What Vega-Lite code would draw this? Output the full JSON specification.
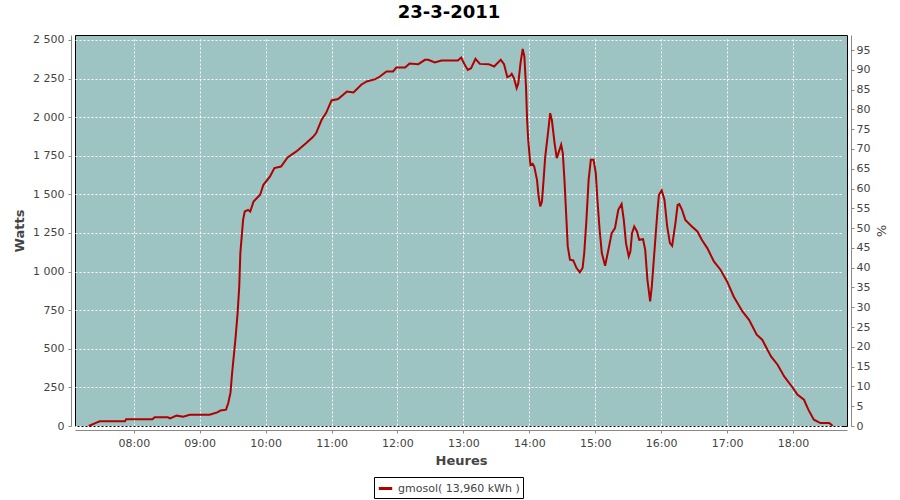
{
  "$schema": "https://vega.github.io/schema/vega-lite/v6.json",
  "width": 772,
  "height": 391,
  "autosize": {"type": "none"},
  "padding": {"left": 75, "top": 35, "right": 53, "bottom": 74},
  "background": "white",
  "title": {"text": "23-3-2011", "font": "DejaVu Sans", "fontSize": 18, "fontWeight": "bold", "color": "black", "anchor": "middle", "dx": -12, "offset": 12},
  "config": {
    "view": {"fill": "#9dc3c2", "stroke": "black", "strokeWidth": 1},
    "axis": {
      "labelFont": "DejaVu Sans", "labelFontSize": 11, "labelColor": "#444444",
      "titleFont": "DejaVu Sans", "titleFontSize": 13, "titleFontWeight": "bold", "titleColor": "#444444",
      "domainColor": "#888888", "tickColor": "#888888", "tickSize": 3, "offset": 4,
      "gridColor": "white", "gridDash": [2, 2], "gridWidth": 1, "gridOpacity": 1
    }
  },
  "layer": [
    {
      "data": {"values": [
        {"heure": "2011-03-23T07:19:00", "watts": 0, "serie": "gmosol( 13,960 kWh )"},
        {"heure": "2011-03-23T07:25:00", "watts": 19, "serie": "gmosol( 13,960 kWh )"},
        {"heure": "2011-03-23T07:29:00", "watts": 30, "serie": "gmosol( 13,960 kWh )"},
        {"heure": "2011-03-23T07:52:00", "watts": 30, "serie": "gmosol( 13,960 kWh )"},
        {"heure": "2011-03-23T07:53:00", "watts": 43, "serie": "gmosol( 13,960 kWh )"},
        {"heure": "2011-03-23T08:17:00", "watts": 43, "serie": "gmosol( 13,960 kWh )"},
        {"heure": "2011-03-23T08:19:00", "watts": 56, "serie": "gmosol( 13,960 kWh )"},
        {"heure": "2011-03-23T08:31:00", "watts": 56, "serie": "gmosol( 13,960 kWh )"},
        {"heure": "2011-03-23T08:33:00", "watts": 49, "serie": "gmosol( 13,960 kWh )"},
        {"heure": "2011-03-23T08:39:00", "watts": 67, "serie": "gmosol( 13,960 kWh )"},
        {"heure": "2011-03-23T08:45:00", "watts": 60, "serie": "gmosol( 13,960 kWh )"},
        {"heure": "2011-03-23T08:51:00", "watts": 73, "serie": "gmosol( 13,960 kWh )"},
        {"heure": "2011-03-23T09:09:00", "watts": 73, "serie": "gmosol( 13,960 kWh )"},
        {"heure": "2011-03-23T09:16:00", "watts": 88, "serie": "gmosol( 13,960 kWh )"},
        {"heure": "2011-03-23T09:19:00", "watts": 101, "serie": "gmosol( 13,960 kWh )"},
        {"heure": "2011-03-23T09:24:00", "watts": 106, "serie": "gmosol( 13,960 kWh )"},
        {"heure": "2011-03-23T09:26:00", "watts": 149, "serie": "gmosol( 13,960 kWh )"},
        {"heure": "2011-03-23T09:28:00", "watts": 214, "serie": "gmosol( 13,960 kWh )"},
        {"heure": "2011-03-23T09:29:30", "watts": 343, "serie": "gmosol( 13,960 kWh )"},
        {"heure": "2011-03-23T09:31:00", "watts": 451, "serie": "gmosol( 13,960 kWh )"},
        {"heure": "2011-03-23T09:32:30", "watts": 559, "serie": "gmosol( 13,960 kWh )"},
        {"heure": "2011-03-23T09:34:30", "watts": 731, "serie": "gmosol( 13,960 kWh )"},
        {"heure": "2011-03-23T09:36:00", "watts": 904, "serie": "gmosol( 13,960 kWh )"},
        {"heure": "2011-03-23T09:37:00", "watts": 1120, "serie": "gmosol( 13,960 kWh )"},
        {"heure": "2011-03-23T09:38:30", "watts": 1249, "serie": "gmosol( 13,960 kWh )"},
        {"heure": "2011-03-23T09:39:30", "watts": 1335, "serie": "gmosol( 13,960 kWh )"},
        {"heure": "2011-03-23T09:41:00", "watts": 1389, "serie": "gmosol( 13,960 kWh )"},
        {"heure": "2011-03-23T09:44:00", "watts": 1400, "serie": "gmosol( 13,960 kWh )"},
        {"heure": "2011-03-23T09:46:00", "watts": 1389, "serie": "gmosol( 13,960 kWh )"},
        {"heure": "2011-03-23T09:49:00", "watts": 1454, "serie": "gmosol( 13,960 kWh )"},
        {"heure": "2011-03-23T09:55:00", "watts": 1497, "serie": "gmosol( 13,960 kWh )"},
        {"heure": "2011-03-23T09:58:00", "watts": 1562, "serie": "gmosol( 13,960 kWh )"},
        {"heure": "2011-03-23T10:04:00", "watts": 1616, "serie": "gmosol( 13,960 kWh )"},
        {"heure": "2011-03-23T10:08:00", "watts": 1670, "serie": "gmosol( 13,960 kWh )"},
        {"heure": "2011-03-23T10:14:00", "watts": 1680, "serie": "gmosol( 13,960 kWh )"},
        {"heure": "2011-03-23T10:20:00", "watts": 1739, "serie": "gmosol( 13,960 kWh )"},
        {"heure": "2011-03-23T10:28:00", "watts": 1778, "serie": "gmosol( 13,960 kWh )"},
        {"heure": "2011-03-23T10:37:00", "watts": 1832, "serie": "gmosol( 13,960 kWh )"},
        {"heure": "2011-03-23T10:43:00", "watts": 1871, "serie": "gmosol( 13,960 kWh )"},
        {"heure": "2011-03-23T10:46:00", "watts": 1897, "serie": "gmosol( 13,960 kWh )"},
        {"heure": "2011-03-23T10:51:00", "watts": 1983, "serie": "gmosol( 13,960 kWh )"},
        {"heure": "2011-03-23T10:55:00", "watts": 2026, "serie": "gmosol( 13,960 kWh )"},
        {"heure": "2011-03-23T11:00:00", "watts": 2108, "serie": "gmosol( 13,960 kWh )"},
        {"heure": "2011-03-23T11:06:00", "watts": 2117, "serie": "gmosol( 13,960 kWh )"},
        {"heure": "2011-03-23T11:14:00", "watts": 2166, "serie": "gmosol( 13,960 kWh )"},
        {"heure": "2011-03-23T11:20:00", "watts": 2160, "serie": "gmosol( 13,960 kWh )"},
        {"heure": "2011-03-23T11:27:00", "watts": 2210, "serie": "gmosol( 13,960 kWh )"},
        {"heure": "2011-03-23T11:32:00", "watts": 2231, "serie": "gmosol( 13,960 kWh )"},
        {"heure": "2011-03-23T11:40:00", "watts": 2246, "serie": "gmosol( 13,960 kWh )"},
        {"heure": "2011-03-23T11:44:00", "watts": 2263, "serie": "gmosol( 13,960 kWh )"},
        {"heure": "2011-03-23T11:50:00", "watts": 2296, "serie": "gmosol( 13,960 kWh )"},
        {"heure": "2011-03-23T11:56:00", "watts": 2296, "serie": "gmosol( 13,960 kWh )"},
        {"heure": "2011-03-23T11:59:00", "watts": 2321, "serie": "gmosol( 13,960 kWh )"},
        {"heure": "2011-03-23T12:07:00", "watts": 2321, "serie": "gmosol( 13,960 kWh )"},
        {"heure": "2011-03-23T12:11:00", "watts": 2347, "serie": "gmosol( 13,960 kWh )"},
        {"heure": "2011-03-23T12:19:00", "watts": 2343, "serie": "gmosol( 13,960 kWh )"},
        {"heure": "2011-03-23T12:25:00", "watts": 2371, "serie": "gmosol( 13,960 kWh )"},
        {"heure": "2011-03-23T12:28:00", "watts": 2371, "serie": "gmosol( 13,960 kWh )"},
        {"heure": "2011-03-23T12:34:00", "watts": 2354, "serie": "gmosol( 13,960 kWh )"},
        {"heure": "2011-03-23T12:40:00", "watts": 2367, "serie": "gmosol( 13,960 kWh )"},
        {"heure": "2011-03-23T12:55:00", "watts": 2367, "serie": "gmosol( 13,960 kWh )"},
        {"heure": "2011-03-23T12:58:00", "watts": 2386, "serie": "gmosol( 13,960 kWh )"},
        {"heure": "2011-03-23T13:01:00", "watts": 2343, "serie": "gmosol( 13,960 kWh )"},
        {"heure": "2011-03-23T13:04:00", "watts": 2306, "serie": "gmosol( 13,960 kWh )"},
        {"heure": "2011-03-23T13:07:00", "watts": 2317, "serie": "gmosol( 13,960 kWh )"},
        {"heure": "2011-03-23T13:11:00", "watts": 2378, "serie": "gmosol( 13,960 kWh )"},
        {"heure": "2011-03-23T13:15:00", "watts": 2345, "serie": "gmosol( 13,960 kWh )"},
        {"heure": "2011-03-23T13:23:00", "watts": 2343, "serie": "gmosol( 13,960 kWh )"},
        {"heure": "2011-03-23T13:28:00", "watts": 2328, "serie": "gmosol( 13,960 kWh )"},
        {"heure": "2011-03-23T13:34:00", "watts": 2371, "serie": "gmosol( 13,960 kWh )"},
        {"heure": "2011-03-23T13:37:00", "watts": 2343, "serie": "gmosol( 13,960 kWh )"},
        {"heure": "2011-03-23T13:40:00", "watts": 2259, "serie": "gmosol( 13,960 kWh )"},
        {"heure": "2011-03-23T13:42:30", "watts": 2268, "serie": "gmosol( 13,960 kWh )"},
        {"heure": "2011-03-23T13:44:00", "watts": 2281, "serie": "gmosol( 13,960 kWh )"},
        {"heure": "2011-03-23T13:46:00", "watts": 2253, "serie": "gmosol( 13,960 kWh )"},
        {"heure": "2011-03-23T13:48:30", "watts": 2188, "serie": "gmosol( 13,960 kWh )"},
        {"heure": "2011-03-23T13:50:00", "watts": 2220, "serie": "gmosol( 13,960 kWh )"},
        {"heure": "2011-03-23T13:52:00", "watts": 2350, "serie": "gmosol( 13,960 kWh )"},
        {"heure": "2011-03-23T13:54:00", "watts": 2442, "serie": "gmosol( 13,960 kWh )"},
        {"heure": "2011-03-23T13:55:30", "watts": 2393, "serie": "gmosol( 13,960 kWh )"},
        {"heure": "2011-03-23T13:57:00", "watts": 2198, "serie": "gmosol( 13,960 kWh )"},
        {"heure": "2011-03-23T13:58:00", "watts": 1983, "serie": "gmosol( 13,960 kWh )"},
        {"heure": "2011-03-23T13:59:00", "watts": 1853, "serie": "gmosol( 13,960 kWh )"},
        {"heure": "2011-03-23T14:01:00", "watts": 1691, "serie": "gmosol( 13,960 kWh )"},
        {"heure": "2011-03-23T14:03:00", "watts": 1698, "serie": "gmosol( 13,960 kWh )"},
        {"heure": "2011-03-23T14:04:30", "watts": 1680, "serie": "gmosol( 13,960 kWh )"},
        {"heure": "2011-03-23T14:07:00", "watts": 1594, "serie": "gmosol( 13,960 kWh )"},
        {"heure": "2011-03-23T14:08:30", "watts": 1486, "serie": "gmosol( 13,960 kWh )"},
        {"heure": "2011-03-23T14:10:00", "watts": 1422, "serie": "gmosol( 13,960 kWh )"},
        {"heure": "2011-03-23T14:11:30", "watts": 1454, "serie": "gmosol( 13,960 kWh )"},
        {"heure": "2011-03-23T14:13:00", "watts": 1594, "serie": "gmosol( 13,960 kWh )"},
        {"heure": "2011-03-23T14:14:30", "watts": 1745, "serie": "gmosol( 13,960 kWh )"},
        {"heure": "2011-03-23T14:17:00", "watts": 1897, "serie": "gmosol( 13,960 kWh )"},
        {"heure": "2011-03-23T14:19:00", "watts": 2026, "serie": "gmosol( 13,960 kWh )"},
        {"heure": "2011-03-23T14:20:30", "watts": 1983, "serie": "gmosol( 13,960 kWh )"},
        {"heure": "2011-03-23T14:23:00", "watts": 1832, "serie": "gmosol( 13,960 kWh )"},
        {"heure": "2011-03-23T14:25:00", "watts": 1735, "serie": "gmosol( 13,960 kWh )"},
        {"heure": "2011-03-23T14:26:30", "watts": 1767, "serie": "gmosol( 13,960 kWh )"},
        {"heure": "2011-03-23T14:29:00", "watts": 1821, "serie": "gmosol( 13,960 kWh )"},
        {"heure": "2011-03-23T14:30:30", "watts": 1767, "serie": "gmosol( 13,960 kWh )"},
        {"heure": "2011-03-23T14:32:00", "watts": 1594, "serie": "gmosol( 13,960 kWh )"},
        {"heure": "2011-03-23T14:33:30", "watts": 1379, "serie": "gmosol( 13,960 kWh )"},
        {"heure": "2011-03-23T14:35:00", "watts": 1163, "serie": "gmosol( 13,960 kWh )"},
        {"heure": "2011-03-23T14:37:00", "watts": 1077, "serie": "gmosol( 13,960 kWh )"},
        {"heure": "2011-03-23T14:40:00", "watts": 1072, "serie": "gmosol( 13,960 kWh )"},
        {"heure": "2011-03-23T14:43:00", "watts": 1023, "serie": "gmosol( 13,960 kWh )"},
        {"heure": "2011-03-23T14:46:00", "watts": 995, "serie": "gmosol( 13,960 kWh )"},
        {"heure": "2011-03-23T14:48:30", "watts": 1023, "serie": "gmosol( 13,960 kWh )"},
        {"heure": "2011-03-23T14:50:00", "watts": 1120, "serie": "gmosol( 13,960 kWh )"},
        {"heure": "2011-03-23T14:52:00", "watts": 1335, "serie": "gmosol( 13,960 kWh )"},
        {"heure": "2011-03-23T14:54:00", "watts": 1594, "serie": "gmosol( 13,960 kWh )"},
        {"heure": "2011-03-23T14:56:00", "watts": 1724, "serie": "gmosol( 13,960 kWh )"},
        {"heure": "2011-03-23T14:58:30", "watts": 1724, "serie": "gmosol( 13,960 kWh )"},
        {"heure": "2011-03-23T15:00:30", "watts": 1638, "serie": "gmosol( 13,960 kWh )"},
        {"heure": "2011-03-23T15:02:00", "watts": 1465, "serie": "gmosol( 13,960 kWh )"},
        {"heure": "2011-03-23T15:04:00", "watts": 1271, "serie": "gmosol( 13,960 kWh )"},
        {"heure": "2011-03-23T15:06:00", "watts": 1120, "serie": "gmosol( 13,960 kWh )"},
        {"heure": "2011-03-23T15:09:00", "watts": 1038, "serie": "gmosol( 13,960 kWh )"},
        {"heure": "2011-03-23T15:12:00", "watts": 1141, "serie": "gmosol( 13,960 kWh )"},
        {"heure": "2011-03-23T15:15:00", "watts": 1249, "serie": "gmosol( 13,960 kWh )"},
        {"heure": "2011-03-23T15:18:00", "watts": 1282, "serie": "gmosol( 13,960 kWh )"},
        {"heure": "2011-03-23T15:21:00", "watts": 1400, "serie": "gmosol( 13,960 kWh )"},
        {"heure": "2011-03-23T15:24:00", "watts": 1437, "serie": "gmosol( 13,960 kWh )"},
        {"heure": "2011-03-23T15:26:00", "watts": 1335, "serie": "gmosol( 13,960 kWh )"},
        {"heure": "2011-03-23T15:28:00", "watts": 1184, "serie": "gmosol( 13,960 kWh )"},
        {"heure": "2011-03-23T15:30:30", "watts": 1098, "serie": "gmosol( 13,960 kWh )"},
        {"heure": "2011-03-23T15:32:00", "watts": 1130, "serie": "gmosol( 13,960 kWh )"},
        {"heure": "2011-03-23T15:33:30", "watts": 1249, "serie": "gmosol( 13,960 kWh )"},
        {"heure": "2011-03-23T15:35:30", "watts": 1292, "serie": "gmosol( 13,960 kWh )"},
        {"heure": "2011-03-23T15:38:00", "watts": 1260, "serie": "gmosol( 13,960 kWh )"},
        {"heure": "2011-03-23T15:40:00", "watts": 1206, "serie": "gmosol( 13,960 kWh )"},
        {"heure": "2011-03-23T15:43:30", "watts": 1210, "serie": "gmosol( 13,960 kWh )"},
        {"heure": "2011-03-23T15:45:30", "watts": 1141, "serie": "gmosol( 13,960 kWh )"},
        {"heure": "2011-03-23T15:47:30", "watts": 947, "serie": "gmosol( 13,960 kWh )"},
        {"heure": "2011-03-23T15:50:00", "watts": 807, "serie": "gmosol( 13,960 kWh )"},
        {"heure": "2011-03-23T15:51:30", "watts": 904, "serie": "gmosol( 13,960 kWh )"},
        {"heure": "2011-03-23T15:54:00", "watts": 1141, "serie": "gmosol( 13,960 kWh )"},
        {"heure": "2011-03-23T15:56:30", "watts": 1379, "serie": "gmosol( 13,960 kWh )"},
        {"heure": "2011-03-23T15:58:00", "watts": 1497, "serie": "gmosol( 13,960 kWh )"},
        {"heure": "2011-03-23T16:00:30", "watts": 1525, "serie": "gmosol( 13,960 kWh )"},
        {"heure": "2011-03-23T16:03:00", "watts": 1465, "serie": "gmosol( 13,960 kWh )"},
        {"heure": "2011-03-23T16:05:30", "watts": 1292, "serie": "gmosol( 13,960 kWh )"},
        {"heure": "2011-03-23T16:08:00", "watts": 1184, "serie": "gmosol( 13,960 kWh )"},
        {"heure": "2011-03-23T16:10:00", "watts": 1167, "serie": "gmosol( 13,960 kWh )"},
        {"heure": "2011-03-23T16:13:00", "watts": 1314, "serie": "gmosol( 13,960 kWh )"},
        {"heure": "2011-03-23T16:15:00", "watts": 1432, "serie": "gmosol( 13,960 kWh )"},
        {"heure": "2011-03-23T16:16:30", "watts": 1437, "serie": "gmosol( 13,960 kWh )"},
        {"heure": "2011-03-23T16:19:00", "watts": 1400, "serie": "gmosol( 13,960 kWh )"},
        {"heure": "2011-03-23T16:22:00", "watts": 1335, "serie": "gmosol( 13,960 kWh )"},
        {"heure": "2011-03-23T16:28:00", "watts": 1292, "serie": "gmosol( 13,960 kWh )"},
        {"heure": "2011-03-23T16:33:00", "watts": 1260, "serie": "gmosol( 13,960 kWh )"},
        {"heure": "2011-03-23T16:37:00", "watts": 1206, "serie": "gmosol( 13,960 kWh )"},
        {"heure": "2011-03-23T16:42:00", "watts": 1152, "serie": "gmosol( 13,960 kWh )"},
        {"heure": "2011-03-23T16:48:00", "watts": 1066, "serie": "gmosol( 13,960 kWh )"},
        {"heure": "2011-03-23T16:54:00", "watts": 1012, "serie": "gmosol( 13,960 kWh )"},
        {"heure": "2011-03-23T17:00:00", "watts": 936, "serie": "gmosol( 13,960 kWh )"},
        {"heure": "2011-03-23T17:06:00", "watts": 839, "serie": "gmosol( 13,960 kWh )"},
        {"heure": "2011-03-23T17:14:00", "watts": 742, "serie": "gmosol( 13,960 kWh )"},
        {"heure": "2011-03-23T17:20:00", "watts": 688, "serie": "gmosol( 13,960 kWh )"},
        {"heure": "2011-03-23T17:27:00", "watts": 591, "serie": "gmosol( 13,960 kWh )"},
        {"heure": "2011-03-23T17:32:00", "watts": 559, "serie": "gmosol( 13,960 kWh )"},
        {"heure": "2011-03-23T17:40:00", "watts": 451, "serie": "gmosol( 13,960 kWh )"},
        {"heure": "2011-03-23T17:46:00", "watts": 397, "serie": "gmosol( 13,960 kWh )"},
        {"heure": "2011-03-23T17:52:00", "watts": 321, "serie": "gmosol( 13,960 kWh )"},
        {"heure": "2011-03-23T18:00:00", "watts": 246, "serie": "gmosol( 13,960 kWh )"},
        {"heure": "2011-03-23T18:04:00", "watts": 203, "serie": "gmosol( 13,960 kWh )"},
        {"heure": "2011-03-23T18:10:00", "watts": 170, "serie": "gmosol( 13,960 kWh )"},
        {"heure": "2011-03-23T18:14:00", "watts": 106, "serie": "gmosol( 13,960 kWh )"},
        {"heure": "2011-03-23T18:19:00", "watts": 41, "serie": "gmosol( 13,960 kWh )"},
        {"heure": "2011-03-23T18:25:00", "watts": 19, "serie": "gmosol( 13,960 kWh )"},
        {"heure": "2011-03-23T18:33:00", "watts": 19, "serie": "gmosol( 13,960 kWh )"},
        {"heure": "2011-03-23T18:35:00", "watts": 8, "serie": "gmosol( 13,960 kWh )"},
        {"heure": "2011-03-23T18:36:00", "watts": 0, "serie": "gmosol( 13,960 kWh )"}
      ]},
      "mark": {"type": "line", "strokeWidth": 2},
      "encoding": {
        "x": {
          "field": "heure", "type": "temporal",
          "scale": {"domain": ["2011-03-23T07:06:30", "2011-03-23T18:49:10"], "nice": false},
          "axis": {"title": "Heures", "format": "%H:%M", "tickCount": 12, "labelPadding": 4, "titlePadding": 6, "grid": true}
        },
        "y": {
          "field": "watts", "type": "quantitative",
          "scale": {"domain": [0, 2532], "nice": false},
          "axis": {"title": "Watts", "values": [0, 250, 500, 750, 1000, 1250, 1500, 1750, 2000, 2250, 2500], "labelExpr": "replace(format(datum.value, ',d'), ',', ' ')", "labelPadding": 4, "titlePadding": 6, "grid": true}
        },
        "color": {
          "field": "serie", "type": "nominal",
          "scale": {"range": ["#b00000"]},
          "legend": {"title": null, "orient": "none", "legendX": 299, "legendY": 442, "strokeColor": "black", "fillColor": "white", "padding": 3, "symbolStrokeWidth": 3, "symbolSize": 180, "labelFont": "DejaVu Sans", "labelFontSize": 11, "labelColor": "#444444"}
        }
      }
    },
    {
      "data": {"values": [{"pourcent": 0}]},
      "mark": {"type": "rule", "opacity": 0},
      "encoding": {
        "y": {
          "field": "pourcent", "type": "quantitative",
          "scale": {"domain": [0, 98.8], "nice": false},
          "axis": {"orient": "right", "title": "%", "titleFontWeight": "normal", "values": [0, 5, 10, 15, 20, 25, 30, 35, 40, 45, 50, 55, 60, 65, 70, 75, 80, 85, 90, 95], "labelPadding": 2, "titlePadding": 4, "grid": false}
        }
      }
    }
  ],
  "resolve": {"scale": {"y": "independent"}}
}
